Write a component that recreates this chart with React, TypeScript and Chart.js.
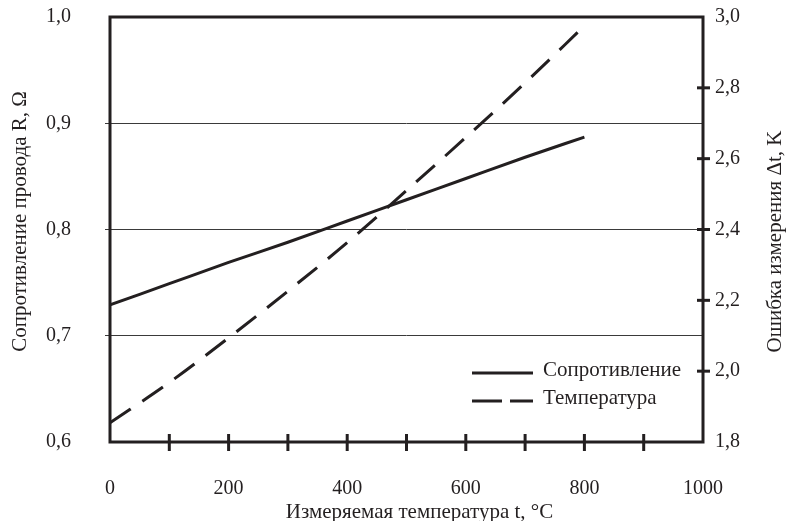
import React, { useEffect, useRef } from 'react';
import { Chart, registerables } from 'chart.js';

Chart.register(...registerables);

// ---- data ----
const temperatures = [0, 100, 200, 300, 400, 500, 600, 700, 800];
const resistance = [0.729, 0.749, 0.769, 0.788, 0.808, 0.828, 0.848, 0.868, 0.887];
const measurementError = [1.854, 1.968, 2.094, 2.226, 2.363, 2.51, 2.66, 2.814, 2.975];
const xTickLabels = ['0', '200', '400', '600', '800', '1000'];
const seriesNames = ['Сопротивление', 'Температура'];
const xTitle = 'Измеряемая температура t, °C';
const yLeftTitle = 'Сопротивление провода R, Ω';
const yRightTitle = 'Ошибка измерения Δt, K';

const FONT = '"Liberation Serif", "Times New Roman", serif';
const INK = '#231f20';
const GRID = '#3a3a3a';

const comma = (v: number) => Number(v).toFixed(1).replace('.', ',');

const framePlugin = {
  id: 'frame',
  afterDatasetsDraw(chart: any) {
    const { ctx, chartArea: a, scales } = chart;
    ctx.save();
    ctx.strokeStyle = INK;
    ctx.lineCap = 'butt';
    ctx.setLineDash([]);
    ctx.lineWidth = 3;
    ctx.strokeRect(a.left, a.top, a.right - a.left, a.bottom - a.top);
    const line = (x1: number, y1: number, x2: number, y2: number) => {
      ctx.beginPath();
      ctx.moveTo(x1, y1);
      ctx.lineTo(x2, y2);
      ctx.stroke();
    };
    const xs = scales.x;
    xs.ticks.forEach((t: any) => {
      if (t.value <= xs.min || t.value >= xs.max) return;
      const px = xs.getPixelForValue(t.value);
      line(px, a.bottom - 8, px, a.bottom + 9);
    });
    const ys = scales.y1;
    ys.ticks.forEach((t: any) => {
      if (t.value <= ys.min + 1e-6 || t.value >= ys.max - 1e-6) return;
      const py = ys.getPixelForValue(t.value);
      line(a.right - 6, py, a.right + 7, py);
    });
    // legend inside the plot, bottom right
    ctx.font = `21px ${FONT}`;
    ctx.fillStyle = INK;
    ctx.textBaseline = 'middle';
    ctx.textAlign = 'left';
    chart.data.datasets.forEach((ds: any, i: number) => {
      const y = a.bottom - 69 + i * 28;
      ctx.lineWidth = 3;
      ctx.setLineDash(ds.borderDash && ds.borderDash.length ? [30, 8] : []);
      line(a.right - 231, y, a.right - 170, y);
      ctx.setLineDash([]);
      ctx.fillText(ds.label, a.right - 160, y - 3);
    });
    // axis titles
    ctx.textAlign = 'center';
    ctx.textBaseline = 'middle';
    ctx.fillText(xTitle, (a.left + a.right) / 2 + 13, xs.bottom - 9);
    const drawVertical = (text: string, x: number, y: number) => {
      ctx.save();
      ctx.translate(x, y);
      ctx.rotate(-Math.PI / 2);
      ctx.fillText(text, 0, 0);
      ctx.restore();
    };
    const mid = (a.top + a.bottom) / 2;
    drawVertical(yLeftTitle, scales.y.left + 20, mid - 8);
    drawVertical(yRightTitle, ys.right - 13, mid + 12);
    ctx.restore();
  },
};

export default function App() {
  const canvasRef = useRef<HTMLCanvasElement | null>(null);

  useEffect(() => {
    document.body.style.margin = '0';
    const canvas = canvasRef.current;
    if (!canvas) return;
    const chart = new Chart(canvas, {
      type: 'line',
      data: {
        datasets: [
          {
            label: seriesNames[0],
            data: temperatures.map((t, i) => ({ x: t, y: resistance[i] })),
            yAxisID: 'y',
            borderColor: INK,
            borderWidth: 3,
            pointRadius: 0,
            fill: false,
            cubicInterpolationMode: 'monotone',
          },
          {
            label: seriesNames[1],
            data: temperatures.map((t, i) => ({ x: t, y: measurementError[i] })),
            yAxisID: 'y1',
            borderColor: INK,
            borderWidth: 3,
            borderDash: [25, 14],
            pointRadius: 0,
            fill: false,
            cubicInterpolationMode: 'monotone',
          },
        ],
      },
      options: {
        animation: false,
        responsive: false,
        devicePixelRatio: 1,
        layout: { padding: { top: 17, left: 0, right: 0, bottom: 0 } },
        plugins: {
          legend: { display: false },
          tooltip: { enabled: false },
        },
        scales: {
          x: {
            type: 'linear',
            position: 'bottom',
            min: 0,
            max: 1000,
            afterFit: (s: any) => {
              s.height = 79;
              s.paddingLeft = 0;
              s.paddingRight = 0;
            },
            border: { display: false },
            grid: { drawOnChartArea: false, drawTicks: false },
            ticks: {
              stepSize: 100,
              autoSkip: false,
              maxRotation: 0,
              padding: 35,
              color: INK,
              font: { family: FONT, size: 20 },
              callback: (v: any) => (xTickLabels.includes(String(v)) ? String(v) : ''),
            },
            title: { display: false, text: xTitle },
          },
          y: {
            type: 'linear',
            position: 'left',
            min: 0.6,
            max: 1.0,
            afterFit: (s: any) => {
              s.width = 110;
              s.paddingTop = 0;
              s.paddingBottom = 0;
            },
            border: { display: false },
            grid: {
              drawOnChartArea: true,
              drawTicks: true,
              tickLength: 5,
              lineWidth: 1,
              color: (c: any) => {
                const v = c.tick ? c.tick.value : 0;
                return Math.abs(v - 0.6) < 1e-6 || Math.abs(v - 1.0) < 1e-6 ? 'rgba(0,0,0,0)' : GRID;
              },
            },
            ticks: {
              stepSize: 0.1,
              padding: 34,
              color: INK,
              font: { family: FONT, size: 20 },
              callback: (v: any) => comma(v),
            },
            title: { display: false, text: yLeftTitle },
          },
          y1: {
            type: 'linear',
            position: 'right',
            min: 1.8,
            max: 3.0,
            afterFit: (s: any) => {
              s.width = 85;
              s.paddingTop = 0;
              s.paddingBottom = 0;
            },
            border: { display: false },
            grid: { drawOnChartArea: false, drawTicks: false },
            ticks: {
              stepSize: 0.2,
              padding: 12,
              color: INK,
              font: { family: FONT, size: 20 },
              callback: (v: any) => comma(v),
            },
            title: { display: false, text: yRightTitle },
          },
        },
      },
      plugins: [framePlugin],
    } as any);
    return () => chart.destroy();
  }, []);

  return (
    <div style={{ position: 'absolute', left: 0, top: 0, width: 788, height: 521, background: '#fff' }}>
      <canvas ref={canvasRef} width={788} height={521} style={{ display: 'block' }} />
    </div>
  );
}
